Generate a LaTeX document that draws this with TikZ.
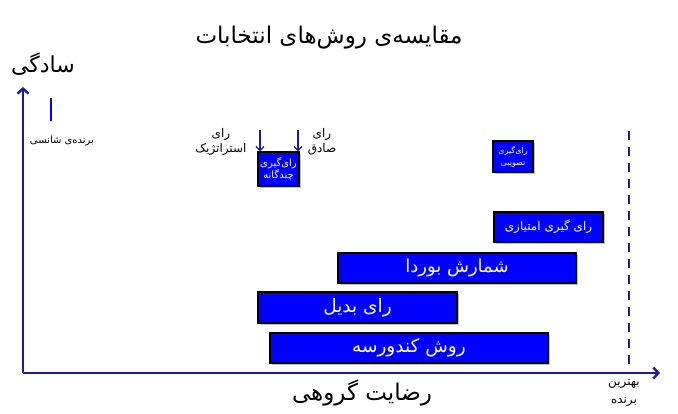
\documentclass[tikz,border=0pt]{standalone}
\usepackage{fontspec}
\newfontfamily\arabicfont[Script=Arabic]{DejaVu Sans}
\TeXXeTstate=1
\usetikzlibrary{shadows,arrows.meta}
\definecolor{axisnavy}{RGB}{28,28,150}
\definecolor{boxblue}{RGB}{0,0,255}
\newcommand{\fatext}[1]{\beginR #1\endR}
\tikzset{
  method/.style={draw=black, line width=1.3pt, fill=boxblue, text=white, inner sep=0pt, align=center,
    drop shadow={shadow xshift=2pt, shadow yshift=-2pt, fill=black, opacity=0.25}},
  axisline/.style={draw=axisnavy, line width=2.4pt, -{Straight Barb[length=5pt,width=11pt]}},
  pointer/.style={draw=axisnavy, line width=1.3pt, -{Straight Barb[length=4pt,width=8pt]}},
  caption/.style={align=center, inner sep=0pt, font=\arabicfont\fontsize{12}{15}\selectfont}
}
\begin{document}
\begin{tikzpicture}[x=1pt, y=-1pt]
\useasboundingbox (0,0) rectangle (678,414);
\node[inner sep=0pt, font=\arabicfont\fontsize{23}{26}\selectfont] (title) at (329,38) {\fatext{مقایسه‌ی روش‌های انتخابات}};
\node[inner sep=0pt, font=\arabicfont\fontsize{22}{26}\selectfont] (ylab) at (43,64) {\fatext{سادگی}};
\node[inner sep=0pt, font=\arabicfont\fontsize{23}{26}\selectfont] (xlab) at (362,393) {\fatext{رضایت گروهی}};
\coordinate (origin) at (23,373);
\coordinate (ytip) at (23,87);
\coordinate (xtip) at (660,373);
\draw[axisline] (origin) -- (ytip);
\draw[axisline] (origin) -- (xtip);
\coordinate (chanceTop) at (51,98);
\coordinate (chanceBot) at (51,121);
\draw[draw=blue, line width=2.6pt] (chanceTop) -- (chanceBot);
\node[inner sep=0pt, font=\arabicfont\fontsize{10}{12}\selectfont] (chance) at (62,141) {\fatext{برنده‌ی شانسی}};
\node[method, minimum width=278pt, minimum height=30pt, font=\arabicfont\fontsize{18.5}{20}\selectfont] (condorcet) at (409,348) {\fatext{روش کندورسه}};
\node[method, minimum width=199pt, minimum height=31pt, font=\arabicfont\fontsize{18.5}{20}\selectfont] (irv) at (357.5,307.5) {\fatext{رای بدیل}};
\node[method, minimum width=238pt, minimum height=30pt, font=\arabicfont\fontsize{18}{20}\selectfont] (borda) at (457,268) {\fatext{شمارش بوردا}};
\node[method, minimum width=109pt, minimum height=30pt, font=\arabicfont\fontsize{12}{14}\selectfont] (score) at (548.5,227) {\fatext{رای گیری امتیازی}};
\node[method, minimum width=40pt, minimum height=31pt, font=\arabicfont\fontsize{8}{12}\selectfont] (approval) at (513,156.5) {\fatext{رای‌گیری}\\\fatext{تصویبی}};
\node[method, minimum width=41pt, minimum height=34pt, font=\arabicfont\fontsize{10}{12}\selectfont] (plural) at (278.5,169) {\fatext{رای‌گیری}\\\fatext{چندگانه}};
\node[caption] (strategic) at (221,142) {\fatext{رای}\\\fatext{استراتژیک}};
\node[caption] (honest) at (322,142) {\fatext{رای}\\\fatext{صادق}};
\coordinate (stratTop) at (260,130);
\coordinate (honestTop) at (298,130);
\draw[pointer] (stratTop) -- (stratTop |- plural.north);
\draw[pointer] (honestTop) -- (honestTop |- plural.north);
\coordinate (bestTop) at (629,131);
\coordinate (bestBot) at (629,371);
\draw[draw=axisnavy, line width=2.6pt, dash pattern=on 9pt off 7pt] (bestTop) -- (bestBot);
\node[caption, font=\arabicfont\fontsize{12}{18}\selectfont] (best) at (624,393) {\fatext{بهترین}\\\fatext{برنده}};
\end{tikzpicture}
\end{document}
